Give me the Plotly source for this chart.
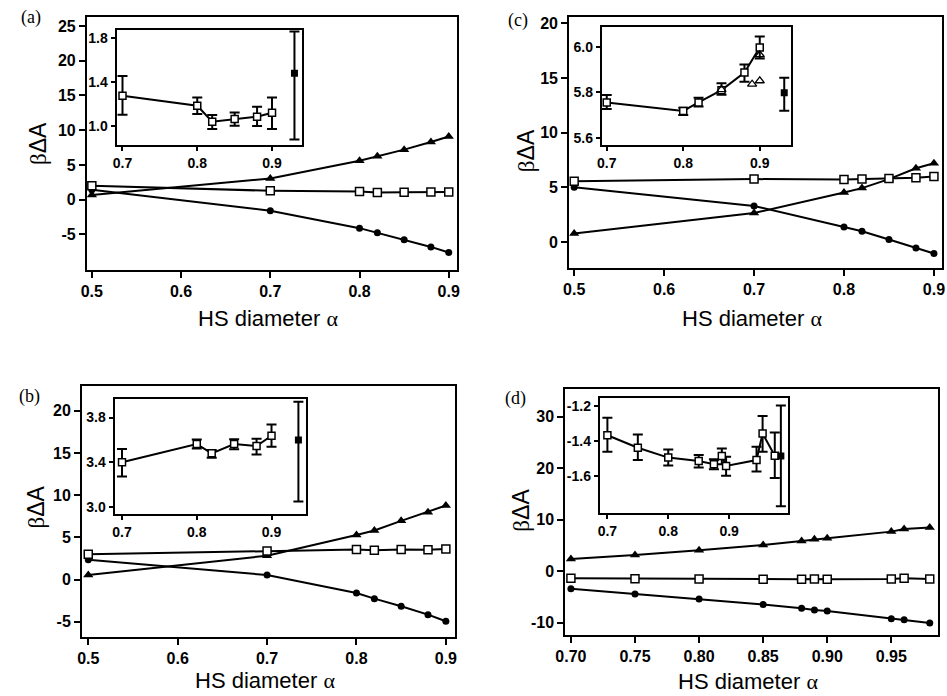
import plotly.graph_objects as go

W, H = 947, 696

# ---------------- data ----------------
# Panel (a)
a_alpha = [0.5, 0.7, 0.8, 0.82, 0.85, 0.88, 0.9]
a_tri = [0.67, 3.05, 5.6, 6.25, 7.2, 8.3, 9.1]
a_sq = [2.0, 1.28, 1.19, 1.04, 1.07, 1.09, 1.12]
a_circ = [1.43, -1.6, -4.1, -4.76, -5.76, -6.8, -7.6]
a_in_alpha = [0.7, 0.8, 0.82, 0.85, 0.88, 0.9]
a_in_val = [1.277, 1.187, 1.043, 1.067, 1.088, 1.124]
a_in_hi = [1.455, 1.262, 1.104, 1.127, 1.178, 1.262]
a_in_lo = [1.106, 1.113, 0.977, 1.007, 1.005, 0.977]
a_ref_alpha = [0.930]
a_ref_val = [1.48]
a_ref_hi = [1.855]
a_ref_lo = [0.884]

# Panel (c)
c_alpha = [0.5, 0.7, 0.8, 0.82, 0.85, 0.88, 0.9]
c_tri = [0.77, 2.65, 4.53, 4.93, 5.75, 6.75, 7.2]
c_sq = [5.55, 5.756, 5.719, 5.756, 5.81, 5.887, 5.997]
c_circ = [5.0, 3.3, 1.37, 0.98, 0.22, -0.55, -1.06]
c_in_alpha = [0.7, 0.8, 0.82, 0.85, 0.88, 0.9]
c_in_val = [5.756, 5.719, 5.756, 5.81, 5.887, 5.997]
c_in_hi = [5.789, 5.733, 5.777, 5.84, 5.922, 6.045]
c_in_lo = [5.727, 5.701, 5.738, 5.79, 5.847, 5.949]
c_in_tri_alpha = [0.85, 0.89, 0.9, 0.9]
c_in_tri_val = [5.812, 5.836, 5.851, 5.965]
c_ref_alpha = [0.932]
c_ref_val = [5.799]
c_ref_hi = [5.864]
c_ref_lo = [5.72]

# Panel (b)
b_alpha = [0.5, 0.7, 0.8, 0.82, 0.85, 0.88, 0.9]
b_tri = [0.55, 2.84, 5.3, 5.83, 6.97, 8.0, 8.78]
b_sq = [3.0, 3.40, 3.563, 3.48, 3.563, 3.545, 3.637]
b_circ = [2.36, 0.55, -1.58, -2.25, -3.15, -4.14, -4.93]
b_in_alpha = [0.7, 0.8, 0.82, 0.85, 0.88, 0.9]
b_in_val = [3.40, 3.563, 3.48, 3.563, 3.545, 3.637]
b_in_hi = [3.518, 3.604, 3.509, 3.607, 3.61, 3.738]
b_in_lo = [3.272, 3.524, 3.44, 3.516, 3.47, 3.54]
b_ref_alpha = [0.936]
b_ref_val = [3.6]
b_ref_hi = [3.94]
b_ref_lo = [3.05]

# Panel (d)
d_alpha = [0.70, 0.75, 0.80, 0.85, 0.88, 0.89, 0.90, 0.95, 0.96, 0.98]
d_tri = [2.37, 3.15, 4.1, 5.1, 5.9, 6.2, 6.4, 7.7, 8.2, 8.5]
d_sq = [-1.366, -1.438, -1.495, -1.514, -1.533, -1.486, -1.543, -1.509, -1.356, -1.484]
d_circ = [-3.4, -4.4, -5.35, -6.45, -7.15, -7.5, -7.7, -9.2, -9.4, -10.0]
d_in_alpha = [0.70, 0.75, 0.80, 0.85, 0.875, 0.888, 0.895, 0.945, 0.955, 0.975]
d_in_val = [-1.366, -1.438, -1.495, -1.514, -1.533, -1.486, -1.543, -1.509, -1.356, -1.484]
d_in_hi = [-1.265, -1.362, -1.448, -1.48, -1.505, -1.442, -1.49, -1.433, -1.255, -1.35]
d_in_lo = [-1.461, -1.509, -1.541, -1.552, -1.562, -1.533, -1.6, -1.575, -1.461, -1.613]
d_ref_alpha = [0.985]
d_ref_val = [-1.486]
d_ref_hi = [-1.194]
d_ref_lo = [-1.775]

# tick labels
ab_c_xticks = [0.5, 0.6, 0.7, 0.8, 0.9]
ab_c_xlabels = ["0.5", "0.6", "0.7", "0.8", "0.9"]
a_yticks = [-5, 0, 5, 10, 15, 20, 25]
a_ylabels = ["-5", "0", "5", "10", "15", "20", "25"]
c_yticks = [0, 5, 10, 15, 20]
c_ylabels = ["0", "5", "10", "15", "20"]
b_yticks = [-5, 0, 5, 10, 15, 20]
b_ylabels = ["-5", "0", "5", "10", "15", "20"]
d_xticks = [0.70, 0.75, 0.80, 0.85, 0.90, 0.95]
d_xlabels = ["0.70", "0.75", "0.80", "0.85", "0.90", "0.95"]
d_yticks = [-10, 0, 10, 20, 30]
d_ylabels = ["-10", "0", "10", "20", "30"]
in_xticks = [0.7, 0.8, 0.9]
in_xlabels = ["0.7", "0.8", "0.9"]
a_in_yticks = [1.0, 1.4, 1.8]
a_in_ylabels = ["1.0", "1.4", "1.8"]
c_in_yticks = [5.6, 5.8, 6.0]
c_in_ylabels = ["5.6", "5.8", "6.0"]
b_in_yticks = [3.0, 3.4, 3.8]
b_in_ylabels = ["3.0", "3.4", "3.8"]
d_in_yticks = [-1.6, -1.4, -1.2]
d_in_ylabels = ["-1.6", "-1.4", "-1.2"]

# ---------------- figure ----------------
fig = go.Figure()
layout = dict(width=W, height=H, margin=dict(l=0, r=0, t=0, b=0),
              paper_bgcolor="white", plot_bgcolor="white", showlegend=False)


def px_x(p):
    return p / W


def px_y(p):
    return 1 - p / H


def axis(dom, rng, vals, labels, anchor, size, ticklen):
    return dict(domain=dom, range=rng, showline=True, linecolor="black", linewidth=2,
                mirror=True, ticks="outside", ticklen=ticklen, tickwidth=2, tickcolor="black",
                tickvals=vals, ticktext=labels, showgrid=False, zeroline=False, anchor=anchor,
                tickfont=dict(family="Liberation Sans", size=size, color="black", weight="bold"))


def main_panel(idx, xpx, ypx, xr, yr, xt, xl, yt, yl, alpha, tri, sq, circ):
    xa = "x" if idx == 1 else f"x{idx}"
    ya = "y" if idx == 1 else f"y{idx}"
    xk = "xaxis" if idx == 1 else f"xaxis{idx}"
    yk = "yaxis" if idx == 1 else f"yaxis{idx}"
    layout[xk] = axis([px_x(xpx[0]), px_x(xpx[1])], xr, xt, xl, ya, 16, 6)
    layout[yk] = axis([px_y(ypx[1]), px_y(ypx[0])], yr, yt, yl, xa, 16, 6)
    fig.add_trace(go.Scatter(x=alpha, y=circ, xaxis=xa, yaxis=ya, mode="lines+markers",
                             line=dict(color="black", width=2),
                             marker=dict(symbol="circle", size=7, color="black")))
    fig.add_trace(go.Scatter(x=alpha, y=tri, xaxis=xa, yaxis=ya, mode="lines+markers",
                             line=dict(color="black", width=2),
                             marker=dict(symbol="triangle-up", size=9, color="black")))
    fig.add_trace(go.Scatter(x=alpha, y=sq, xaxis=xa, yaxis=ya, mode="lines+markers",
                             line=dict(color="black", width=2),
                             marker=dict(symbol="square", size=8, color="white",
                                         line=dict(color="black", width=1.5))))


def inset_panel(idx, xpx, ypx, xr, yr, yt, yl, alpha, val, hi, lo, ralpha, rval, rhi, rlo):
    xa, ya = f"x{idx}", f"y{idx}"
    layout[f"xaxis{idx}"] = axis([px_x(xpx[0]), px_x(xpx[1])], xr, in_xticks, in_xlabels, ya, 14, 4)
    layout[f"yaxis{idx}"] = axis([px_y(ypx[1]), px_y(ypx[0])], yr, yt, yl, xa, 14, 4)
    fig.add_trace(go.Scatter(x=alpha, y=val, xaxis=xa, yaxis=ya, mode="lines+markers",
                             line=dict(color="black", width=2),
                             marker=dict(symbol="square", size=7, color="white",
                                         line=dict(color="black", width=1.5)),
                             error_y=dict(type="data", symmetric=False,
                                          array=[h - v for h, v in zip(hi, val)],
                                          arrayminus=[v - l for v, l in zip(val, lo)],
                                          color="black", thickness=2, width=5)))
    fig.add_trace(go.Scatter(x=ralpha, y=rval, xaxis=xa, yaxis=ya, mode="markers",
                             marker=dict(symbol="square", size=7, color="black"),
                             error_y=dict(type="data", symmetric=False,
                                          array=[h - v for h, v in zip(rhi, rval)],
                                          arrayminus=[v - l for v, l in zip(rval, rlo)],
                                          color="black", thickness=2, width=5)))
    return xa, ya


# (a)
main_panel(1, (78, 453), (15, 269), [0.4945, 0.909], [-10.1, 26.3],
           ab_c_xticks, ab_c_xlabels, a_yticks, a_ylabels, a_alpha, a_tri, a_sq, a_circ)
inset_panel(2, (108, 296), (28, 144), [0.692, 0.940], [0.83, 1.87], a_in_yticks, a_in_ylabels,
            a_in_alpha, a_in_val, a_in_hi, a_in_lo, a_ref_alpha, a_ref_val, a_ref_hi, a_ref_lo)

# (c)
main_panel(3, (567, 945), (15, 267), [0.4945, 0.909], [-2.37, 20.6],
           ab_c_xticks, ab_c_xlabels, c_yticks, c_ylabels, c_alpha, c_tri, c_sq, c_circ)
xa4, ya4 = inset_panel(4, (600, 792), (25, 144), [0.6935, 0.941], [5.568, 6.087], c_in_yticks, c_in_ylabels,
                       c_in_alpha, c_in_val, c_in_hi, c_in_lo, c_ref_alpha, c_ref_val, c_ref_hi, c_ref_lo)
fig.add_trace(go.Scatter(x=c_in_tri_alpha, y=c_in_tri_val, xaxis=xa4, yaxis=ya4, mode="markers",
                         marker=dict(symbol="triangle-up-open", size=8, color="black",
                                     line=dict(width=1.3))))

# (b)
main_panel(5, (73, 451), (386, 638), [0.493, 0.91], [-6.82, 22.9],
           ab_c_xticks, ab_c_xlabels, b_yticks, b_ylabels, b_alpha, b_tri, b_sq, b_circ)
inset_panel(6, (106, 300), (399, 514), [0.690, 0.946], [2.94, 3.963], b_in_yticks, b_in_ylabels,
            b_in_alpha, b_in_val, b_in_hi, b_in_lo, b_ref_alpha, b_ref_val, b_ref_hi, b_ref_lo)

# (d)
main_panel(7, (563, 941), (389, 636), [0.6956, 0.9865], [-12.4, 35.3],
           d_xticks, d_xlabels, d_yticks, d_ylabels, d_alpha, d_tri, d_sq, d_circ)
inset_panel(8, (598, 789), (398, 513), [0.6875, 0.997], [-1.813, -1.153], d_in_yticks, d_in_ylabels,
            d_in_alpha, d_in_val, d_in_hi, d_in_lo, d_ref_alpha, d_ref_val, d_ref_hi, d_ref_lo)

# ---------------- text ----------------
xtitle = "HS diameter <span style='font-family:Liberation Serif'>α</span>"
ytitle = "<span style='font-family:Liberation Serif'>β</span>ΔA"
ann = []
for (cx, cy) in [(262, 318), (752, 318), (259, 681), (748, 682)]:
    ann.append(dict(text=xtitle, x=px_x(cx), y=px_y(cy), xref="paper", yref="paper",
                    showarrow=False, xanchor="center", yanchor="middle",
                    font=dict(family="Liberation Sans", size=22, color="black")))
for (cx, cy) in [(29, 142), (524, 149), (26, 507), (518, 510)]:
    ann.append(dict(text=ytitle, x=px_x(cx), y=px_y(cy), xref="paper", yref="paper",
                    showarrow=False, xanchor="center", yanchor="middle", textangle=-90,
                    font=dict(family="Liberation Sans", size=23, color="black")))
for (lab, cx, cy) in [("(a)", 21, 16), ("(c)", 515, 19), ("(b)", 20, 396), ("(d)", 513, 398)]:
    ann.append(dict(text=lab, x=px_x(cx), y=px_y(cy), xref="paper", yref="paper",
                    showarrow=False, xanchor="center", yanchor="middle",
                    font=dict(family="Liberation Serif", size=18, color="black")))
layout["annotations"] = ann

fig.update_layout(**layout)
fig.write_html("out.html", config={"displayModeBar": False},
               post_script="document.body.style.margin='0';document.body.style.overflow='hidden';")
